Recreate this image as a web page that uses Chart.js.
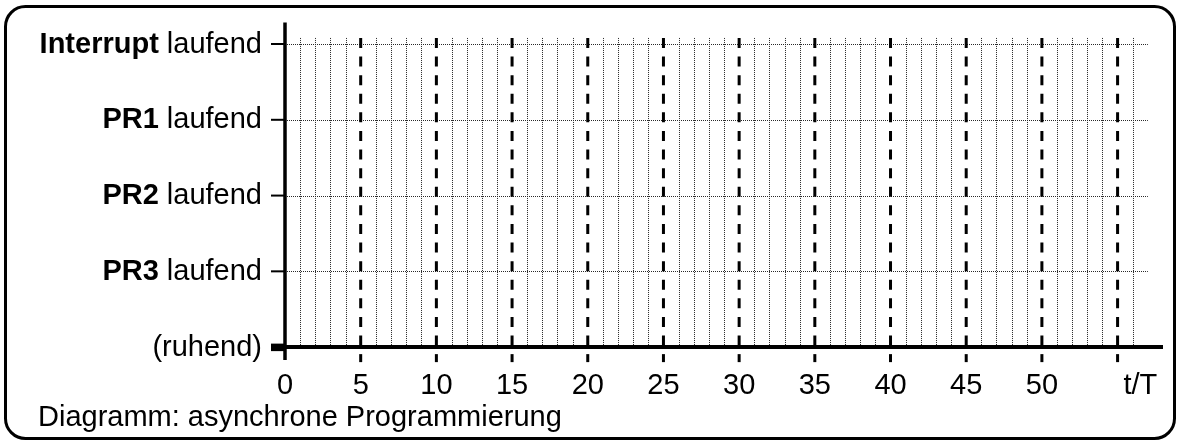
<!DOCTYPE html>
<html>
<head>
<meta charset="utf-8">
<script src="https://cdn.jsdelivr.net/npm/chart.js@4"></script>
<style>
html,body{margin:0;padding:0;background:#fff;overflow:hidden}
#wrap{position:relative;width:1180px;height:443px}
</style>
</head>
<body>
<div id="wrap"><canvas id="c" width="1180" height="443"></canvas></div>
<script>
// ---- data ----
const levelValues = [0, 1, 2, 3, 4];
const levelBold   = ['', 'PR3', 'PR2', 'PR1', 'Interrupt'];
const levelText   = ['(ruhend)', ' laufend', ' laufend', ' laufend', ' laufend'];
const xTickValues = [0, 5, 10, 15, 20, 25, 30, 35, 40, 45, 50];
const xTickLabels = ['0', '5', '10', '15', '20', '25', '30', '35', '40', '45', '50'];
const majorLines  = [5, 10, 15, 20, 25, 30, 35, 40, 45, 50, 55];
const unitLabel   = 't/T';
const unitPos     = 56.5;
const minorStep   = 1;
const minorEnd    = 56;
const hGridEnd    = 57;
const gridTop     = 4.08;
const caption     = 'Diagramm: asynchrone Programmierung';

const FONT = '"Liberation Sans", Arial, Helvetica, sans-serif';

const diagramPlugin = {
  id: 'diagram',
  afterDraw(chart) {
    const ctx = chart.ctx;
    const x = chart.scales.x, y = chart.scales.y;
    const px = v => x.getPixelForValue(v);
    const py = v => y.getPixelForValue(v);
    ctx.save();

    // outer rounded frame
    ctx.strokeStyle = '#000';
    ctx.lineWidth = 3;
    ctx.beginPath();
    ctx.roundRect(5.5, 6.5, 1169, 432, 20);
    ctx.stroke();

    // minor dotted vertical grid
    ctx.lineWidth = 1;
    ctx.strokeStyle = '#2a2a2a';
    ctx.setLineDash([1, 1]);
    for (let v = minorStep; v <= minorEnd; v += minorStep) {
      if (majorLines.includes(v)) continue;
      const xx = Math.round(px(v)) + 0.5;
      ctx.beginPath();
      ctx.moveTo(xx, py(gridTop));
      ctx.lineTo(xx, py(0));
      ctx.stroke();
    }
    // dotted horizontal grid
    levelValues.forEach(l => {
      if (l === 0) return;
      const yy = Math.round(py(l)) + 0.5;
      ctx.beginPath();
      ctx.moveTo(px(0), yy);
      ctx.lineTo(px(hGridEnd), yy);
      ctx.stroke();
    });

    // major dashed lines
    ctx.strokeStyle = '#000';
    ctx.lineWidth = 3;
    ctx.setLineDash([10, 8.6]);
    majorLines.forEach(v => {
      const xx = px(v);
      ctx.beginPath();
      ctx.moveTo(xx, py(gridTop));
      ctx.lineTo(xx, py(0));
      ctx.stroke();
    });
    ctx.setLineDash([]);
    // ticks below x axis
    majorLines.forEach(v => {
      const xx = px(v);
      ctx.beginPath();
      ctx.moveTo(xx, py(0) + 7);
      ctx.lineTo(xx, py(0) + 15);
      ctx.stroke();
    });

    // axes
    ctx.lineWidth = 4;
    ctx.beginPath();
    ctx.moveTo(px(0) - 2, py(0));
    ctx.lineTo(x.right, py(0));
    ctx.stroke();
    ctx.lineWidth = 3.5;
    ctx.beginPath();
    ctx.moveTo(px(0), y.top);
    ctx.lineTo(px(0), y.bottom);
    ctx.stroke();

    // y level ticks
    ctx.lineWidth = 2;
    levelValues.forEach(l => {
      const yy = py(l);
      if (l === 0) {
        ctx.fillStyle = '#000';
        ctx.fillRect(px(0) - 14, yy - 3.5, 14, 7.5);
      } else {
        ctx.beginPath();
        ctx.moveTo(px(0) - 14, yy);
        ctx.lineTo(px(0), yy);
        ctx.stroke();
      }
    });

    // y labels (bold + normal)
    ctx.fillStyle = '#000';
    ctx.textBaseline = 'alphabetic';
    ctx.textAlign = 'left';
    const rightEdge = px(0) - 23;
    levelValues.forEach((l, i) => {
      const yy = py(l) + 8.5;
      ctx.font = '29px ' + FONT;
      const wN = ctx.measureText(levelText[i]).width;
      ctx.fillText(levelText[i], rightEdge - wN, yy);
      if (levelBold[i]) {
        ctx.font = 'bold 29px ' + FONT;
        const wB = ctx.measureText(levelBold[i]).width;
        ctx.fillText(levelBold[i], rightEdge - wN - wB, yy);
      }
    });

    // x tick labels
    ctx.font = '29px ' + FONT;
    ctx.textAlign = 'center';
    xTickValues.forEach((v, i) => {
      ctx.fillText(xTickLabels[i], px(v), 394);
    });
    ctx.fillText(unitLabel, px(unitPos), 394);

    // caption
    ctx.textAlign = 'left';
    ctx.fillText(caption, 38, 426);

    ctx.restore();
  }
};

new Chart(document.getElementById('c'), {
  type: 'scatter',
  data: { datasets: [{ data: [], showLine: false }] },
  options: {
    responsive: false,
    animation: false,
    devicePixelRatio: 1,
    layout: { padding: { left: 285, right: 17, top: 22.5, bottom: 83 } },
    plugins: { legend: { display: false }, tooltip: { enabled: false } },
    scales: {
      x: { type: 'linear', display: false, min: 0, max: 58 },
      y: { type: 'linear', display: false, min: -0.17, max: 4.284 }
    }
  },
  plugins: [diagramPlugin]
});
</script>
</body>
</html>
